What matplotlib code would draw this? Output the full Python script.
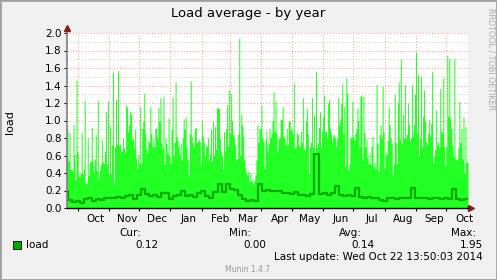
import numpy as np
import matplotlib
matplotlib.use("Agg")
import matplotlib.pyplot as plt
import matplotlib.dates as mdates
from matplotlib.patches import Rectangle
import datetime as dt

# daily max load (light green area), Sep 2013 .. Oct 2014
load_max = [
    1.28, 0.78, 0.60, 0.89, 0.54, 0.86, 0.45, 0.44, 0.43, 0.95,
    0.61, 0.32, 1.46, 0.64, 0.38, 0.36, 0.40, 0.86, 0.39, 0.45,
    1.23, 0.29, 0.28, 0.80, 0.37, 0.52, 0.53, 0.92, 0.54, 0.42,
    0.56, 0.84, 0.43, 1.23, 0.34, 0.44, 0.50, 0.78, 0.53, 0.51,
    0.65, 1.10, 0.50, 1.23, 0.39, 0.94, 0.39, 0.72, 1.55, 0.29,
    0.70, 1.24, 0.73, 1.57, 0.72, 0.73, 0.65, 0.65, 0.80, 0.69,
    0.64, 1.18, 1.15, 0.87, 0.95, 1.10, 1.07,
    0.78, 0.80, 0.69, 0.90, 0.57, 0.45, 0.61, 0.52, 1.16, 0.51,
    0.91, 0.99, 1.31, 0.85, 0.67, 0.63, 0.77, 0.75, 1.16, 0.85,
    0.70, 0.80, 0.70, 0.91, 0.91, 0.80, 1.15, 0.99, 1.26, 0.74,
    0.68, 1.28, 0.50, 0.80, 0.74, 0.62, 1.03, 0.59, 0.51, 0.90,
    1.27, 0.60, 0.75, 1.44, 0.82, 0.77, 0.70, 0.61, 0.74, 0.55,
    0.80, 1.02, 0.90, 1.04, 0.69, 0.55, 0.38, 0.85, 1.45, 0.82,
    0.75, 0.70, 0.91, 0.92, 0.75, 0.76, 0.78, 0.76,
    0.50, 1.00, 0.82, 0.75, 0.59, 0.72, 0.70, 0.80, 0.55, 0.62,
    0.90, 0.53, 0.99, 0.60, 0.93, 0.67, 1.15, 1.14, 1.14, 0.80,
    0.65, 0.60, 0.45, 0.87, 0.65, 0.90, 1.18, 0.70, 1.35, 0.85,
    1.31, 1.00, 0.84, 0.80, 0.72, 0.55, 0.57, 0.85, 1.94, 0.60,
    1.07, 0.95, 0.82, 0.55, 0.46, 0.40, 0.38, 0.42, 0.30, 0.40,
    0.32, 0.30, 0.27, 0.32, 0.38, 0.55, 0.95, 0.75, 0.91, 0.90,
    1.18, 0.80, 0.76, 0.45, 0.78, 0.88, 0.65, 0.74,
    0.91, 0.80, 0.85, 1.00, 1.33, 0.88, 1.22, 0.85, 0.65, 0.80,
    0.80, 1.01, 1.01, 1.16, 0.82, 0.79, 0.72, 0.91, 0.72, 0.99,
    1.00, 0.89, 0.91, 0.85, 1.43, 0.68, 0.70, 0.86, 0.84, 0.72,
    0.70, 0.88, 0.75, 1.26, 0.68, 0.66, 1.00, 1.14, 0.85, 0.40,
    0.70, 0.75, 1.26, 0.70, 1.06, 0.64, 1.56, 0.70, 0.74, 0.92,
    1.10, 0.69, 0.88, 1.04, 1.29, 0.87, 0.88, 0.80, 1.20, 1.24,
    0.91, 0.85, 0.76, 0.82, 0.84, 0.80, 0.70, 0.80,
    1.26, 0.95, 1.01, 1.20, 1.42, 0.85, 1.16, 0.48, 1.49, 1.31,
    0.44, 0.50, 0.81, 0.80, 1.22, 0.82, 0.78, 0.86, 0.91, 1.14,
    1.00, 0.70, 1.28, 1.28, 0.55, 1.28, 0.86, 0.70, 0.79, 0.58,
    0.50, 0.63, 0.50, 0.70, 0.82, 0.48, 0.52, 0.45, 1.41, 0.74,
    0.42, 0.84, 0.95, 0.80, 1.39, 0.87, 0.46, 0.64, 0.61, 0.77,
    1.16, 0.95, 0.80, 0.74, 0.38, 0.50, 1.30, 0.75, 0.51, 1.20,
    1.43, 0.78, 1.70, 0.74, 1.07, 0.80, 1.41, 0.80,
    0.84, 1.20, 0.95, 0.77, 0.80, 1.41, 0.82, 0.95, 1.30, 1.79,
    0.87, 1.52, 0.61, 0.80, 1.50, 0.70, 1.05, 1.35, 0.99, 0.76,
    0.72, 0.85, 1.01, 0.82, 0.97, 1.56, 0.52, 0.60, 0.67, 1.12,
    0.72, 0.76, 0.70, 1.37, 0.88, 0.86, 1.49, 0.70, 0.48, 0.70,
    1.75, 1.05, 1.71, 1.03, 0.91, 0.72, 0.59, 1.71, 0.57, 0.55,
    0.56, 0.69, 1.22, 0.75, 0.91, 0.56, 1.04, 0.40, 0.93, 0.52,
    0.52,
]

# average load, one value per 4 days (dark green line)
load_avg = [
    0.20, 0.09, 0.07, 0.08, 0.06, 0.10, 0.11, 0.08, 0.10, 0.09,
    0.11, 0.12, 0.11, 0.13, 0.12, 0.14, 0.15, 0.10, 0.15, 0.22,
    0.16, 0.14, 0.15, 0.13, 0.17, 0.17, 0.10, 0.14, 0.15, 0.20,
    0.14, 0.15, 0.13, 0.17, 0.19, 0.14, 0.12, 0.18, 0.28, 0.18,
    0.27, 0.22, 0.21, 0.15, 0.10, 0.08, 0.09, 0.08, 0.28, 0.19,
    0.21, 0.20, 0.19, 0.20, 0.17, 0.17, 0.16, 0.18, 0.15, 0.15,
    0.14, 0.16, 0.62, 0.16, 0.17, 0.15, 0.17, 0.25, 0.15, 0.14,
    0.15, 0.14, 0.23, 0.13, 0.12, 0.13, 0.11, 0.12, 0.09, 0.08,
    0.11, 0.12, 0.10, 0.11, 0.12, 0.11, 0.23, 0.12, 0.11, 0.12,
    0.10, 0.11, 0.12, 0.10, 0.11, 0.10, 0.22, 0.10, 0.09, 0.10,
]

yticks = [0.0, 0.2, 0.4, 0.6, 0.8, 1.0, 1.2, 1.4, 1.6, 1.8, 2.0]

cur_txt, min_txt, avg_txt, max_txt = "0.12", "0.00", "0.14", "1.95"
last_update = "Last update: Wed Oct 22 13:50:03 2014"

end = dt.datetime(2014, 10, 22, 13, 50)
start = end - dt.timedelta(days=400)

t_max = [start + dt.timedelta(days=i) for i in range(len(load_max) + 1)]
y_max = load_max + [load_max[-1]]
t_avg = [start + dt.timedelta(days=4 * i) for i in range(len(load_avg) + 1)]
y_avg = load_avg + [load_avg[-1]]

fig = plt.figure(figsize=(4.97, 2.80), dpi=100)
fig.patch.set_facecolor("#f0f0f0")
fig.patches.append(Rectangle((0, 0), 1, 1, transform=fig.transFigure,
                             fill=False, edgecolor="#a0a0a0", lw=2))

ax = fig.add_axes([67 / 497, 72 / 280, 401 / 497, 175 / 280])
ax.set_facecolor("white")

ax.fill_between(t_max, y_max, step="post", color="#22ff22", lw=0, zorder=2)
ax.step(t_avg, y_avg, where="post", color="#00aa00", lw=1.6, zorder=3)

ax.set_xlim(end - dt.timedelta(days=397), end)
ax.set_ylim(0, 2.0)

# grid
ax.set_yticks(yticks)
ax.set_yticks(np.arange(0.1, 2.0, 0.2), minor=True)
ax.set_yticklabels(["%.1f" % v for v in yticks])
ax.xaxis.set_major_locator(mdates.MonthLocator())
ax.xaxis.set_minor_locator(mdates.MonthLocator(bymonthday=19))
ax.xaxis.set_major_formatter(plt.NullFormatter())
ax.xaxis.set_minor_formatter(mdates.DateFormatter("%b"))
ax.grid(True, which="major", axis="both", color="#ff9090",
        linestyle=(0, (1, 2)), lw=0.7, zorder=4)
ax.grid(True, which="minor", axis="y", color="#c8c8c8",
        linestyle=(0, (1, 2)), lw=0.7, zorder=4)

ax.tick_params(axis="y", which="major", length=2, labelsize=7.5, pad=2,
               colors="#000000")
ax.tick_params(axis="y", which="minor", length=0)
ax.tick_params(axis="x", which="major", length=2, colors="#000000")
ax.tick_params(axis="x", which="minor", length=0, labelsize=7.5, pad=4)

for s in ["top", "right"]:
    ax.spines[s].set_visible(False)
ax.spines["left"].set_color("#808080")
ax.spines["left"].set_linewidth(1.2)
ax.spines["bottom"].set_color("#000000")
ax.spines["bottom"].set_linewidth(1.0)
ax.spines["left"].set_zorder(5)
ax.spines["bottom"].set_zorder(5)

# axis arrows
ax.plot([0, 0], [1.0, 1.025], transform=ax.transAxes, color="#808080",
        lw=1.2, clip_on=False)
ax.plot([0], [1.03], marker="^", ms=5, color="#8b1a1a",
        transform=ax.transAxes, clip_on=False)
ax.plot([1.0, 1.006], [0, 0], transform=ax.transAxes, color="#000000",
        lw=1.0, clip_on=False)
ax.plot([1.008], [0], marker=">", ms=5, color="#8b1a1a",
        transform=ax.transAxes, clip_on=False)

fig.text(10 / 497, 1 - 122 / 280, "load", rotation=90, ha="center",
         va="center", fontsize=8)

fig.text(248 / 497, 1 - 14 / 280, "Load average - by year",
         ha="center", va="center", fontsize=9.5)
fig.text(491 / 497, 1 - 8 / 280, "RRDTOOL / TOBI OETIKER", rotation=270,
         ha="center", va="top", fontsize=5.8, color="#aaaaaa")

# legend
fig.patches.append(Rectangle((13 / 497, 1 - 249 / 280), 8 / 497, 8 / 280,
                             transform=fig.transFigure, facecolor="#00aa00",
                             edgecolor="black", lw=0.6))
fs = 7.5
fig.text(26 / 497, 1 - 245 / 280, "load", ha="left", va="center", fontsize=fs)
for hx, vx, head, val in [(141, 158, "Cur:", cur_txt),
                          (251, 266, "Min:", min_txt),
                          (362, 375, "Avg:", avg_txt),
                          (476, 483, "Max:", max_txt)]:
    fig.text(hx / 497, 1 - 233 / 280, head, ha="right", va="center",
             fontsize=fs)
    fig.text(vx / 497, 1 - 245 / 280, val, ha="right", va="center",
             fontsize=fs)
fig.text(483 / 497, 1 - 257 / 280, last_update, ha="right", va="center",
         fontsize=fs)
fig.text(248 / 497, 1 - 269 / 280, "Munin 1.4.7", ha="center", va="center",
         fontsize=5.5, color="#999999")

fig.savefig("out.png", dpi=100, facecolor=fig.get_facecolor())
